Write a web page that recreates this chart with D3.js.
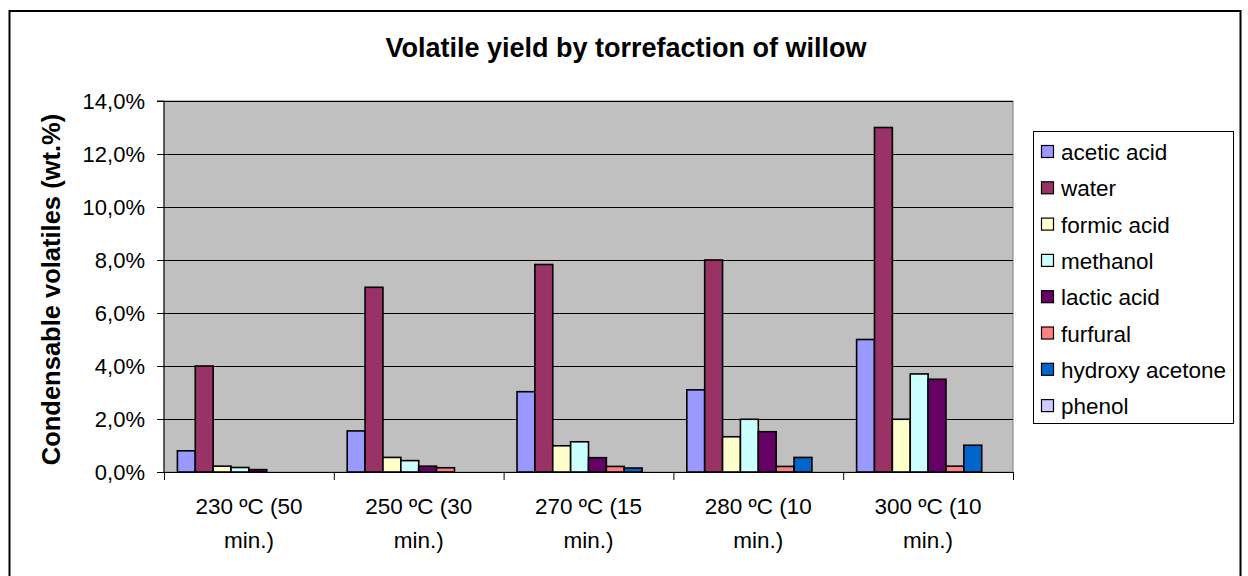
<!DOCTYPE html>
<html>
<head>
<meta charset="utf-8">
<script src="https://cdn.jsdelivr.net/npm/d3@7"></script>
<style>
  body { margin: 0; background: #fff; }
  svg { display: block; font-family: "Liberation Sans", Arial, sans-serif; }
</style>
</head>
<body>
<div id="chart"></div>
<script>
// Chart data (percent by weight)
const categories = ["230 ºC (50 min.)", "250 ºC (30 min.)", "270 ºC (15 min.)", "280 ºC (10 min.)", "300 ºC (10 min.)"];
const categoryLines = [["230 ºC (50", "min.)"], ["250 ºC (30", "min.)"], ["270 ºC (15", "min.)"], ["280 ºC (10", "min.)"], ["300 ºC (10", "min.)"]];
const seriesNames = ["acetic acid", "water", "formic acid", "methanol", "lactic acid", "furfural", "hydroxy acetone", "phenol"];
const seriesColors = ["#9999FF", "#993366", "#FFFFCC", "#CCFFFF", "#660066", "#FF8080", "#0066CC", "#CCCCFF"];

const aceticAcid     = [0.8, 1.55, 3.03, 3.1, 5.0];
const water          = [4.0, 6.97, 7.83, 8.0, 13.0];
const formicAcid     = [0.22, 0.55, 0.99, 1.33, 1.99];
const methanol       = [0.17, 0.43, 1.14, 1.99, 3.7];
const lacticAcid     = [0.09, 0.22, 0.54, 1.52, 3.5];
const furfural       = [0, 0.16, 0.21, 0.21, 0.22];
const hydroxyAcetone = [0, 0, 0.15, 0.55, 1.01];
const phenol         = [0, 0, 0, 0, 0];

const yTicks = [0, 2, 4, 6, 8, 10, 12, 14];
const seriesValues = [aceticAcid, water, formicAcid, methanol, lacticAcid, furfural, hydroxyAcetone, phenol];

const width = 1248, height = 576;
const plot = { left: 164, top: 101, right: 1013, bottom: 472 };

const svg = d3.select("#chart").append("svg")
    .attr("width", width)
    .attr("height", height);

// outer chart frame
svg.append("rect")
    .attr("x", 9.5).attr("y", 11)
    .attr("width", 1231).attr("height", 600)
    .attr("fill", "#fff")
    .attr("stroke", "#000")
    .attr("stroke-width", 2);

const x0 = d3.scaleBand()
    .domain(categories)
    .range([plot.left, plot.right])
    .paddingInner(0)
    .paddingOuter(0);

// Excel-like gap width of 150%
const x1 = d3.scaleBand()
    .domain(seriesNames)
    .range([0, x0.bandwidth()])
    .paddingInner(0)
    .paddingOuter(0.75);

const y = d3.scaleLinear()
    .domain([0, 14])
    .range([plot.bottom, plot.top]);

// plot background
svg.append("rect")
    .attr("x", plot.left).attr("y", plot.top)
    .attr("width", plot.right - plot.left)
    .attr("height", plot.bottom - plot.top)
    .attr("fill", "#C0C0C0")
    .attr("stroke", "#808080")
    .attr("stroke-width", 1);

// gridlines
svg.append("g")
    .selectAll("line")
    .data(yTicks.filter(d => d > 0))
    .join("line")
    .attr("x1", plot.left).attr("x2", plot.right)
    .attr("y1", d => Math.round(y(d)) + 0.5)
    .attr("y2", d => Math.round(y(d)) + 0.5)
    .attr("stroke", "#000")
    .attr("stroke-width", 1);

// bars
const groups = svg.append("g")
    .selectAll("g")
    .data(categories)
    .join("g")
    .attr("transform", d => `translate(${x0(d)},0)`);

groups.selectAll("rect")
    .data((c, ci) => seriesNames.map((s, si) => ({ s, si, v: seriesValues[si][ci] })))
    .join("rect")
    .filter(d => d.v > 0)
    .attr("x", d => x1(d.s))
    .attr("y", d => y(d.v))
    .attr("width", x1.bandwidth())
    .attr("height", d => y(0) - y(d.v))
    .attr("fill", d => seriesColors[d.si])
    .attr("stroke", "#000")
    .attr("stroke-width", 1.6);

// y axis
const yAxis = d3.axisLeft(y)
    .tickValues(yTicks)
    .tickSize(7)
    .tickPadding(12)
    .tickFormat(d => d.toFixed(1).replace(".", ",") + "%");

const yg = svg.append("g")
    .attr("transform", `translate(${plot.left},0)`)
    .call(yAxis);
yg.select(".domain").attr("stroke", "#000").attr("d", `M-7,${plot.top}H0V${plot.bottom}`);
yg.selectAll(".tick line").attr("stroke", "#000");
yg.selectAll("text")
    .attr("font-family", "'Liberation Sans', Arial, sans-serif")
    .attr("font-size", 22)
    .attr("fill", "#000");

// x axis line and category separators
const xg = svg.append("g");
xg.append("line")
    .attr("x1", plot.left).attr("x2", plot.right)
    .attr("y1", plot.bottom + 0.5).attr("y2", plot.bottom + 0.5)
    .attr("stroke", "#000");
xg.selectAll("line.sep")
    .data(categories.map(c => x0(c)).concat([plot.right]))
    .join("line")
    .attr("class", "sep")
    .attr("x1", d => d + 0.5).attr("x2", d => d + 0.5)
    .attr("y1", plot.bottom).attr("y2", plot.bottom + 8)
    .attr("stroke", "#000");

xg.selectAll("text.cat")
    .data(categories)
    .join("text")
    .attr("class", "cat")
    .attr("x", d => x0(d) + x0.bandwidth() / 2)
    .attr("y", 514)
    .attr("text-anchor", "middle")
    .attr("font-size", 22.5)
    .selectAll("tspan")
    .data((d, i) => categoryLines[i])
    .join("tspan")
    .attr("x", function() { return this.parentNode.getAttribute("x"); })
    .attr("dy", (d, i) => i === 0 ? 0 : 34)
    .text(d => d);

// title
svg.append("text")
    .attr("x", 626)
    .attr("y", 57)
    .attr("text-anchor", "middle")
    .attr("font-size", 27)
    .attr("font-weight", "bold")
    .text("Volatile yield by torrefaction of willow");

// y axis title
svg.append("text")
    .attr("transform", `translate(60,${(plot.top + plot.bottom) / 2 + 3}) rotate(-90)`)
    .attr("text-anchor", "middle")
    .attr("font-size", 25.5)
    .attr("font-weight", "bold")
    .text("Condensable volatiles (wt.%)");

// legend
const legend = svg.append("g");
legend.append("rect")
    .attr("x", 1033.5).attr("y", 131.5)
    .attr("width", 200).attr("height", 292)
    .attr("fill", "#fff")
    .attr("stroke", "#000")
    .attr("stroke-width", 1);

const items = legend.selectAll("g")
    .data(seriesNames)
    .join("g")
    .attr("transform", (d, i) => `translate(1041,${152 + i * 36.3})`);

items.append("rect")
    .attr("x", 0.5).attr("y", -6.5)
    .attr("width", 12).attr("height", 12)
    .attr("fill", (d, i) => seriesColors[i])
    .attr("stroke", "#000")
    .attr("stroke-width", 1.2);

items.append("text")
    .attr("x", 20)
    .attr("y", 0)
    .attr("dy", "0.36em")
    .attr("font-size", 22.5)
    .text(d => d);
</script>
</body>
</html>
